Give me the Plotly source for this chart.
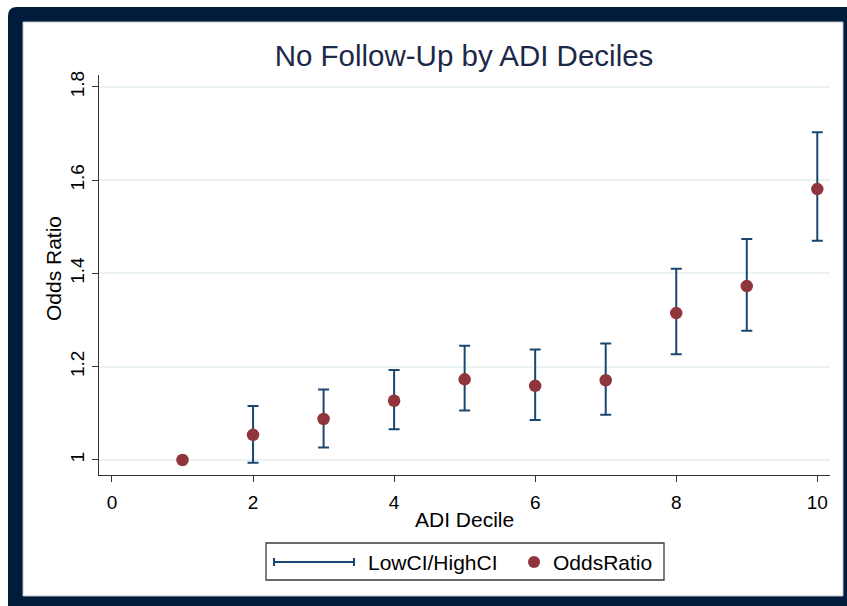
import plotly.graph_objects as go

# ---- data ----
deciles = [1, 2, 3, 4, 5, 6, 7, 8, 9, 10]
odds_ratio = [1.000, 1.054, 1.088, 1.127, 1.173, 1.159, 1.171, 1.315, 1.373, 1.581]
low_ci = [None, 0.994, 1.027, 1.066, 1.106, 1.086, 1.097, 1.227, 1.277, 1.470]
high_ci = [None, 1.116, 1.151, 1.193, 1.245, 1.237, 1.250, 1.410, 1.474, 1.703]
x_ticks = [0, 2, 4, 6, 8, 10]
y_ticks = [1, 1.2, 1.4, 1.6, 1.8]
y_tick_text = ["1", "1.2", "1.4", "1.6", "1.8"]

title_text = "No Follow-Up by ADI Deciles"
x_title = "ADI Decile"
y_title = "Odds Ratio"
legend_ci = "LowCI/HighCI"
legend_or = "OddsRatio"

# ---- styles ----
W, H = 847, 606
L, R, T, B = 99, 830, 75, 475  # plot area in pixels
FONT = "Liberation Sans, Arial, sans-serif"
NAVY = "#1a476f"
MAROON = "#90353b"
FRAME = "#011b3b"


def px(x):
    return (x - L) / (R - L)


def py(y):
    return (B - y) / (B - T)


ci_x = [d for d, lo in zip(deciles, low_ci) if lo is not None]
ci_y = [o for o, lo in zip(odds_ratio, low_ci) if lo is not None]
ci_plus = [h - o for o, h, lo in zip(odds_ratio, high_ci, low_ci) if lo is not None]
ci_minus = [o - lo for o, lo in zip(odds_ratio, low_ci) if lo is not None]

fig = go.Figure()
fig.add_trace(go.Scatter(
    x=ci_x, y=ci_y, mode="markers", name=legend_ci,
    marker=dict(size=1, opacity=0),
    error_y=dict(type="data", symmetric=False, array=ci_plus, arrayminus=ci_minus,
                 color=NAVY, thickness=2, width=5.5),
    showlegend=False, hoverinfo="skip",
))
fig.add_trace(go.Scatter(
    x=deciles, y=odds_ratio, mode="markers", name=legend_or,
    marker=dict(size=12.5, color=MAROON),
    showlegend=False,
))

shapes = []
# outer dark frame with rounded top-left corner
shapes.append(dict(
    type="path", xref="paper", yref="paper", layer="below",
    path=(f"M {px(8)},{py(610)} L {px(8)},{py(16)} Q {px(8)},{py(7)} {px(17)},{py(7)} "
          f"L {px(851)},{py(7)} L {px(851)},{py(610)} Z"),
    fillcolor=FRAME, line=dict(width=0),
))
# inner white panel
shapes.append(dict(
    type="rect", xref="paper", yref="paper", layer="below",
    x0=px(23), x1=px(843), y0=py(596), y1=py(22),
    fillcolor="white", line=dict(color="#b9c0c8", width=1),
))
# legend box
shapes.append(dict(
    type="rect", xref="paper", yref="paper",
    x0=px(266), x1=px(664), y0=py(580), y1=py(543),
    fillcolor="white", line=dict(color="#3a3a3a", width=1.3),
))
# legend CI symbol
shapes.append(dict(type="line", xref="paper", yref="paper",
                   x0=px(274), x1=px(354), y0=py(562), y1=py(562),
                   line=dict(color=NAVY, width=2)))
for cx in (274, 354):
    shapes.append(dict(type="line", xref="paper", yref="paper",
                       x0=px(cx), x1=px(cx), y0=py(566), y1=py(558),
                       line=dict(color=NAVY, width=2)))
# legend marker symbol
shapes.append(dict(type="circle", xref="paper", yref="paper",
                   x0=px(528), x1=px(540), y0=py(568), y1=py(556),
                   fillcolor=MAROON, line=dict(width=0)))

annotations = [
    dict(text=x_title, xref="paper", yref="paper", x=px(464), y=py(519),
         xanchor="center", yanchor="middle", showarrow=False,
         font=dict(family=FONT, size=21, color="black")),
    dict(text=y_title, xref="paper", yref="paper", x=px(53), y=py(269),
         xanchor="center", yanchor="middle", showarrow=False, textangle=-90,
         font=dict(family=FONT, size=21, color="black")),
    dict(text=legend_ci, xref="paper", yref="paper", x=px(366), y=py(562),
         xanchor="left", yanchor="middle", showarrow=False,
         font=dict(family=FONT, size=21, color="black")),
    dict(text=legend_or, xref="paper", yref="paper", x=px(551), y=py(562),
         xanchor="left", yanchor="middle", showarrow=False,
         font=dict(family=FONT, size=21, color="black")),
]

fig.update_layout(
    width=W, height=H,
    margin=dict(l=L, r=W - R, t=T, b=H - B, pad=0),
    paper_bgcolor="white", plot_bgcolor="rgba(0,0,0,0)",
    font=dict(family=FONT, color="black"),
    title=dict(text=title_text, x=px(464), xref="paper", xanchor="center",
               y=1 - 56 / H, yref="container", yanchor="middle",
               font=dict(family=FONT, size=29.5, color="#1c2a48")),
    shapes=shapes, annotations=annotations,
    showlegend=False,
    xaxis=dict(range=[-0.184, 10.18], tickmode="array", tickvals=x_ticks,
               showgrid=False, zeroline=False, showline=True, linecolor="#333333",
               linewidth=1.3, ticks="outside", ticklen=6, tickwidth=1.3,
               tickcolor="#333333", tickfont=dict(size=19, color="black"),
               ticklabelstandoff=4),
    yaxis=dict(range=[0.9678, 1.8257], tickmode="array", tickvals=y_ticks,
               ticktext=y_tick_text, tickangle=-90,
               showgrid=True, gridcolor="#eaf2f3", gridwidth=1.5,
               zeroline=False, showline=True, linecolor="#333333", linewidth=1.3,
               ticks="outside", ticklen=6, tickwidth=1.3, tickcolor="#333333",
               tickfont=dict(size=19, color="black"), ticklabelstandoff=0),
)

fig.write_html(
    "out.html",
    config={"displayModeBar": False},
    post_script="document.body.style.margin='0';document.body.style.overflow='hidden';",
)
